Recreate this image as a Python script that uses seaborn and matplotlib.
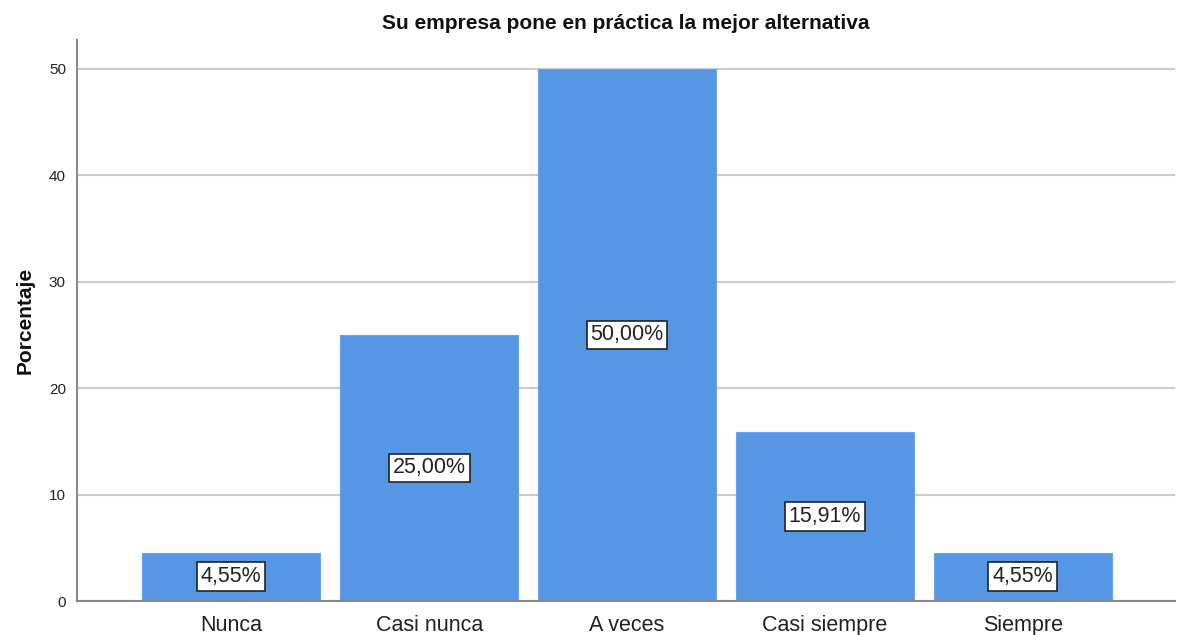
import matplotlib
matplotlib.use("Agg")
import matplotlib.pyplot as plt
import seaborn as sns
import pandas as pd

categories = ["Nunca", "Casi nunca", "A veces", "Casi siempre", "Siempre"]
percentages = [4.55, 25.00, 50.00, 15.91, 4.55]
labels = ["4,55%", "25,00%", "50,00%", "15,91%", "4,55%"]
yticks = [0, 10, 20, 30, 40, 50]

sns.set_theme(style="white")
plt.rcParams['font.family'] = ['Liberation Sans', 'DejaVu Sans']

df = pd.DataFrame({"cat": categories, "pct": percentages})

fig = plt.figure(figsize=(11.79, 6.35), dpi=100)
ax = fig.add_axes([0.0653, 0.0535, 0.9313, 0.8835])

sns.barplot(data=df, x="cat", y="pct", order=categories, color="#5596E5",
            saturation=1, width=0.9, ax=ax, edgecolor="#6aa3ea", linewidth=0.8)

for i, (v, lab) in enumerate(zip(percentages, labels)):
    ax.text(i, v / 2, lab, ha="center", va="center", fontsize=15.5, color="#222222",
            bbox=dict(boxstyle="square,pad=0.18", facecolor="white", edgecolor="#222222", linewidth=1.2))

ax.set_xlim(-0.78, 4.77)
ax.set_ylim(0, 52.7)
ax.set_yticks(yticks)
ax.set_yticklabels([str(t) for t in yticks], fontsize=11, color="#222222")
ax.tick_params(axis="x", labelsize=15.5, colors="#222222", length=0, pad=10)
ax.tick_params(axis="y", length=0, pad=8)
for t in ax.get_xticklabels():
    t.set_color("#222222")
ax.yaxis.grid(True, color="#cccccc", linewidth=1.5)
ax.set_axisbelow(True)
for s in ["top", "right"]:
    ax.spines[s].set_visible(False)
for s in ["left", "bottom"]:
    ax.spines[s].set_color("#888888")
    ax.spines[s].set_linewidth(1.5)
ax.set_xlabel("")
ax.set_ylabel("Porcentaje", fontsize=15, fontweight="bold", color="#111111", labelpad=10)
ax.set_title("Su empresa pone en práctica la mejor alternativa", fontsize=15,
             fontweight="bold", color="#111111", pad=8)

fig.savefig("out.png", dpi=100)
